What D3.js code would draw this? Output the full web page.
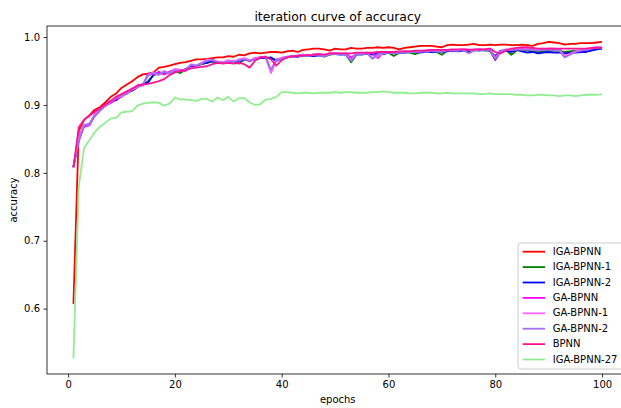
<!DOCTYPE html>
<html><head><meta charset="utf-8">
<script src="https://cdn.jsdelivr.net/npm/d3@7"></script>
<style>
html,body{margin:0;padding:0;background:#fff;}
svg text{font-family:"DejaVu Sans",sans-serif;fill:#000;}
</style></head>
<body><svg id="chart" width="621" height="408"></svg>
<script>
const epochs = d3.range(1, 101);
const seriesNames = ["IGA-BPNN","IGA-BPNN-1","IGA-BPNN-2","GA-BPNN","GA-BPNN-1","GA-BPNN-2","BPNN","IGA-BPNN-27"];
const seriesColors = ["#ff0000","#008000","#0000ff","#ff00ff","#ff66ff","#a070ee","#ff1493","#90ee90"];
const xTicks = [0,20,40,60,80,100];
const yTicks = [0.6,0.7,0.8,0.9,1.0];

const igaBpnn = [0.607,0.862,0.878,0.885,0.893,0.897,0.904,0.912,0.917,0.925,
0.930,0.935,0.941,0.945,0.946,0.948,0.955,0.956,0.958,0.960,
0.962,0.963,0.965,0.967,0.967,0.968,0.969,0.970,0.970,0.972,
0.971,0.974,0.973,0.976,0.977,0.976,0.977,0.978,0.978,0.977,
0.979,0.980,0.978,0.981,0.982,0.983,0.983,0.982,0.980,0.983,
0.982,0.982,0.984,0.983,0.983,0.984,0.984,0.985,0.984,0.985,
0.984,0.982,0.984,0.985,0.986,0.987,0.987,0.987,0.986,0.985,
0.988,0.989,0.988,0.988,0.989,0.990,0.988,0.988,0.989,0.988,
0.989,0.989,0.988,0.988,0.989,0.988,0.987,0.990,0.991,0.993,
0.992,0.991,0.989,0.990,0.990,0.991,0.991,0.991,0.992,0.993];

const igaBpnn1 = [0.808,0.850,0.870,0.871,0.885,0.893,0.899,0.904,0.908,0.913,
0.917,0.922,0.927,0.930,0.935,0.944,0.946,0.948,0.947,0.950,
0.947,0.952,0.958,0.957,0.960,0.962,0.964,0.963,0.962,0.964,
0.963,0.961,0.967,0.965,0.968,0.969,0.970,0.969,0.966,0.968,
0.970,0.971,0.972,0.973,0.972,0.973,0.974,0.971,0.974,0.975,
0.975,0.974,0.963,0.974,0.975,0.976,0.975,0.974,0.976,0.977,
0.972,0.977,0.978,0.977,0.975,0.978,0.979,0.979,0.978,0.974,
0.980,0.979,0.980,0.981,0.979,0.980,0.981,0.980,0.980,0.966,
0.979,0.981,0.974,0.980,0.981,0.980,0.979,0.978,0.979,0.980,
0.980,0.980,0.978,0.979,0.980,0.980,0.981,0.982,0.983,0.983];

const igaBpnn2 = [0.809,0.848,0.869,0.872,0.884,0.892,0.900,0.905,0.907,0.914,
0.918,0.921,0.926,0.931,0.933,0.945,0.947,0.946,0.948,0.951,
0.950,0.953,0.957,0.958,0.961,0.962,0.965,0.962,0.963,0.964,
0.962,0.965,0.966,0.966,0.967,0.969,0.969,0.970,0.965,0.969,
0.970,0.972,0.971,0.973,0.973,0.972,0.973,0.972,0.975,0.975,
0.974,0.975,0.968,0.975,0.974,0.976,0.974,0.976,0.975,0.977,
0.976,0.977,0.977,0.978,0.978,0.977,0.979,0.978,0.979,0.978,
0.979,0.980,0.979,0.980,0.980,0.981,0.980,0.981,0.980,0.972,
0.980,0.980,0.978,0.981,0.979,0.977,0.978,0.976,0.977,0.978,
0.977,0.977,0.976,0.977,0.977,0.978,0.978,0.980,0.982,0.983];

const gaBpnn = [0.808,0.855,0.868,0.870,0.886,0.894,0.899,0.903,0.909,0.912,
0.919,0.922,0.928,0.929,0.946,0.945,0.949,0.945,0.949,0.952,
0.952,0.950,0.959,0.957,0.961,0.966,0.967,0.963,0.962,0.965,
0.964,0.966,0.968,0.964,0.969,0.970,0.971,0.950,0.967,0.969,
0.971,0.971,0.973,0.974,0.973,0.974,0.975,0.973,0.976,0.976,
0.975,0.976,0.970,0.975,0.976,0.977,0.976,0.969,0.977,0.978,
0.977,0.978,0.979,0.978,0.979,0.978,0.980,0.981,0.979,0.980,
0.981,0.980,0.981,0.982,0.981,0.981,0.982,0.981,0.982,0.967,
0.978,0.982,0.981,0.982,0.983,0.982,0.983,0.981,0.982,0.983,
0.983,0.982,0.971,0.976,0.978,0.980,0.981,0.983,0.985,0.984];

const gaBpnn1 = [0.810,0.852,0.871,0.871,0.887,0.893,0.898,0.905,0.911,0.913,
0.917,0.923,0.926,0.930,0.944,0.948,0.944,0.950,0.946,0.953,
0.951,0.951,0.960,0.958,0.962,0.967,0.966,0.964,0.963,0.966,
0.963,0.967,0.969,0.966,0.968,0.971,0.970,0.947,0.966,0.970,
0.970,0.972,0.972,0.974,0.972,0.975,0.974,0.972,0.975,0.976,
0.976,0.975,0.966,0.976,0.975,0.977,0.969,0.972,0.976,0.978,
0.977,0.978,0.978,0.979,0.979,0.979,0.980,0.980,0.980,0.979,
0.981,0.981,0.980,0.982,0.982,0.980,0.982,0.982,0.981,0.970,
0.979,0.981,0.982,0.983,0.982,0.983,0.982,0.982,0.983,0.982,
0.982,0.981,0.972,0.975,0.979,0.981,0.982,0.984,0.986,0.985];

const gaBpnn2 = [0.809,0.846,0.870,0.872,0.884,0.892,0.899,0.906,0.910,0.915,
0.916,0.924,0.927,0.931,0.943,0.947,0.945,0.949,0.947,0.951,
0.950,0.952,0.959,0.958,0.961,0.965,0.966,0.963,0.962,0.964,
0.964,0.966,0.967,0.965,0.967,0.970,0.970,0.952,0.966,0.968,
0.971,0.971,0.972,0.973,0.972,0.974,0.974,0.971,0.975,0.975,
0.975,0.974,0.965,0.975,0.975,0.976,0.968,0.975,0.976,0.977,
0.976,0.977,0.978,0.978,0.978,0.979,0.979,0.980,0.979,0.978,
0.980,0.980,0.980,0.981,0.976,0.980,0.981,0.981,0.981,0.969,
0.978,0.981,0.981,0.982,0.981,0.982,0.981,0.980,0.981,0.981,
0.981,0.980,0.970,0.974,0.978,0.980,0.981,0.983,0.984,0.984];

const bpnn = [0.808,0.867,0.878,0.884,0.890,0.895,0.901,0.906,0.912,0.916,
0.920,0.924,0.929,0.930,0.931,0.933,0.935,0.938,0.944,0.948,
0.950,0.951,0.954,0.955,0.956,0.957,0.960,0.962,0.961,0.962,
0.961,0.962,0.960,0.955,0.965,0.970,0.971,0.967,0.958,0.966,
0.970,0.972,0.972,0.973,0.973,0.974,0.975,0.974,0.976,0.976,
0.976,0.976,0.976,0.977,0.977,0.977,0.977,0.978,0.978,0.978,
0.978,0.979,0.979,0.979,0.980,0.980,0.980,0.981,0.981,0.981,
0.981,0.982,0.982,0.982,0.981,0.982,0.982,0.982,0.983,0.978,
0.976,0.980,0.983,0.984,0.985,0.985,0.984,0.983,0.983,0.983,
0.983,0.983,0.983,0.983,0.983,0.983,0.983,0.984,0.984,0.984];

const igaBpnn27 = [0.527,0.780,0.837,0.848,0.860,0.868,0.874,0.880,0.881,0.889,
0.890,0.891,0.899,0.902,0.903,0.904,0.903,0.899,0.902,0.911,
0.908,0.908,0.907,0.906,0.909,0.909,0.905,0.911,0.907,0.912,
0.905,0.910,0.910,0.904,0.900,0.901,0.908,0.909,0.912,0.919,
0.919,0.918,0.917,0.918,0.918,0.917,0.918,0.918,0.918,0.919,
0.918,0.919,0.919,0.918,0.918,0.918,0.919,0.919,0.920,0.919,
0.918,0.918,0.918,0.917,0.917,0.918,0.918,0.918,0.917,0.917,
0.918,0.917,0.917,0.917,0.917,0.917,0.916,0.916,0.917,0.916,
0.916,0.916,0.916,0.915,0.915,0.914,0.914,0.915,0.915,0.914,
0.914,0.913,0.914,0.914,0.913,0.914,0.915,0.915,0.915,0.916];

const seriesValues = [igaBpnn, igaBpnn1, igaBpnn2, gaBpnn, gaBpnn1, gaBpnn2, bpnn, igaBpnn27];

const svg = d3.select("#chart");
const L = 47, R = 628.5, T = 26, B = 374;
const x = d3.scaleLinear().domain([-3.95, 104.95]).range([L, R]);
const y = d3.scaleLinear().domain([0.5037, 1.0163]).range([B, T]);

svg.append("defs").append("clipPath").attr("id","clip")
  .append("rect").attr("x",L).attr("y",T).attr("width",R-L).attr("height",B-T);

const line = d3.line().x((d,i)=>x(epochs[i])).y(d=>y(d));
const g = svg.append("g").attr("clip-path","url(#clip)");
seriesValues.forEach((vals,k)=>{
  g.append("path").datum(vals).attr("d",line)
    .attr("fill","none").attr("stroke",seriesColors[k])
    .attr("stroke-width",1.8).attr("stroke-linejoin","round");
});

// axes
const xAxis = svg.append("g").attr("transform",`translate(0,${B})`)
  .call(d3.axisBottom(x).tickValues(xTicks).tickFormat(d3.format("d")).tickSize(3.5).tickPadding(3.5));
const yAxis = svg.append("g").attr("transform",`translate(${L},0)`)
  .call(d3.axisLeft(y).tickValues(yTicks).tickFormat(d3.format(".1f")).tickSize(3.5).tickPadding(3.5));
[xAxis,yAxis].forEach(a=>{
  a.select(".domain").remove();
  a.selectAll("text").attr("font-size",10).attr("font-family","DejaVu Sans").attr("fill","#000");
  a.selectAll("line").attr("stroke","#000").attr("stroke-width",0.8);
});
svg.append("rect").attr("x",L).attr("y",T).attr("width",R-L).attr("height",B-T)
  .attr("fill","none").attr("stroke","#000").attr("stroke-width",0.8);

// labels
svg.append("text").attr("x",(L+R)/2).attr("y",17.5).attr("text-anchor","middle")
  .attr("dominant-baseline","middle").attr("font-size",12.4).text("iteration curve of accuracy");
svg.append("text").attr("x",(L+R)/2).attr("y",400).attr("text-anchor","middle")
  .attr("dominant-baseline","middle").attr("font-size",10).text("epochs");
svg.append("text").attr("transform",`translate(14,${(T+B)/2}) rotate(-90)`).attr("text-anchor","middle")
  .attr("dominant-baseline","middle").attr("font-size",10).text("accuracy");

// legend
const lg = svg.append("g");
lg.append("rect").attr("x",518).attr("y",243).attr("width",106).attr("height",126).attr("rx",3)
  .attr("fill","#fff").attr("fill-opacity",0.8).attr("stroke","#cccccc").attr("stroke-width",1);
seriesNames.forEach((n,k)=>{
  const yy = 251.7 + k*15.4;
  lg.append("line").attr("x1",522.7).attr("x2",545).attr("y1",yy).attr("y2",yy)
    .attr("stroke",seriesColors[k]).attr("stroke-width",1.8);
  lg.append("text").attr("x",552.7).attr("y",yy).attr("dominant-baseline","middle")
    .attr("font-size",10).text(n);
});
</script></body></html>
